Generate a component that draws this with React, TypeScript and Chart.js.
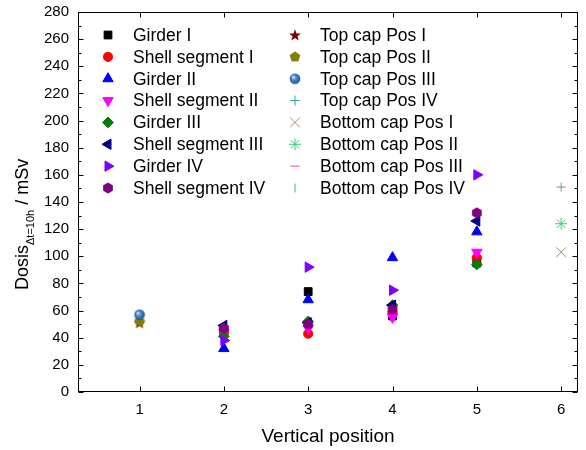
import React, { useEffect, useRef } from 'react';
import { Chart, registerables } from 'chart.js';
import { drawPoint } from 'chart.js/helpers';

Chart.register(...registerables);

// ---------- data ----------
const positions = [1, 2, 3, 4, 5, 6];
const yTicks = [0, 20, 40, 60, 80, 100, 120, 140, 160, 180, 200, 220, 240, 260, 280];
const xTicks = [1, 2, 3, 4, 5, 6];

const seriesNames = [
  'Girder I', 'Shell segment I', 'Girder II', 'Shell segment II',
  'Girder III', 'Shell segment III', 'Girder IV', 'Shell segment IV',
  'Top cap Pos I', 'Top cap Pos II', 'Top cap Pos III', 'Top cap Pos IV',
  'Bottom cap Pos I', 'Bottom cap Pos II', 'Bottom cap Pos III', 'Bottom cap Pos IV',
];

// values at vertical positions 1..6 (null = no measurement)
const girderI = [null, 45, 74, 56, 95, null];
const shellSegmentI = [null, 44, 43, 58, 99, null];
const girderII = [null, 32, 68, 99, 118, null];
const shellSegmentII = [null, 44, 47, 55, 103, null];
const girderIII = [null, 41, 52, 64, 94, null];
const shellSegmentIII = [null, 49, 51, 64, 126, null];
const girderIV = [null, 38, 92, 75, 160, null];
const shellSegmentIV = [null, 47, 50, 61, 132, null];
const topCapPosI = [51, null, null, null, null, null];
const topCapPosII = [52, null, null, null, null, null];
const topCapPosIII = [57, null, null, null, null, null];
const topCapPosIV = [null, null, null, null, null, null];
const bottomCapPosI = [null, null, null, null, null, 103];
const bottomCapPosII = [null, null, null, null, null, 124];
const bottomCapPosIII = [null, null, null, null, null, 151];
const bottomCapPosIV = [null, null, null, null, null, 151];

const seriesValues = [
  girderI, shellSegmentI, girderII, shellSegmentII,
  girderIII, shellSegmentIII, girderIV, shellSegmentIV,
  topCapPosI, topCapPosII, topCapPosIII, topCapPosIV,
  bottomCapPosI, bottomCapPosII, bottomCapPosIII, bottomCapPosIV,
];

const FONT = "'Liberation Sans', Arial, sans-serif";

function makeMarker(size: number, draw: (ctx: CanvasRenderingContext2D, c: number) => void) {
  const cv = document.createElement('canvas');
  cv.width = size;
  cv.height = size;
  const ctx = cv.getContext('2d')!;
  draw(ctx, size / 2);
  return cv;
}

function polygon(ctx: CanvasRenderingContext2D, c: number, n: number, r: number, start: number) {
  ctx.beginPath();
  for (let i = 0; i < n; i++) {
    const a = start + (i * 2 * Math.PI) / n;
    const x = c + r * Math.cos(a);
    const y = c + r * Math.sin(a);
    if (i === 0) ctx.moveTo(x, y); else ctx.lineTo(x, y);
  }
  ctx.closePath();
}

function buildStyles() {
  const hexagon = makeMarker(12, (ctx, c) => {
    polygon(ctx, c, 6, 5.6, -Math.PI / 2);
    ctx.fillStyle = '#800080';
    ctx.fill();
  });
  const star = makeMarker(14, (ctx, c) => {
    ctx.beginPath();
    for (let i = 0; i < 10; i++) {
      const r = i % 2 === 0 ? 6.2 : 2.6;
      const a = -Math.PI / 2 + (i * Math.PI) / 5;
      const x = c + r * Math.cos(a);
      const y = c + 0.5 + r * Math.sin(a);
      if (i === 0) ctx.moveTo(x, y); else ctx.lineTo(x, y);
    }
    ctx.closePath();
    ctx.fillStyle = '#800000';
    ctx.fill();
  });
  const pentagon = makeMarker(12, (ctx, c) => {
    polygon(ctx, c, 5, 5.6, -Math.PI / 2);
    ctx.fillStyle = '#808000';
    ctx.fill();
  });
  const sphere = makeMarker(12, (ctx, c) => {
    const g = ctx.createRadialGradient(c - 1.8, c - 1.8, 0.5, c, c, 5.5);
    g.addColorStop(0, '#cfe4fb');
    g.addColorStop(0.35, '#4f8fd0');
    g.addColorStop(1, '#1d4f8a');
    ctx.beginPath();
    ctx.arc(c, c, 5.3, 0, Math.PI * 2);
    ctx.fillStyle = g;
    ctx.fill();
  });

  return [
    { pointStyle: 'rect', rotation: 0, radius: 5.5, color: '#000000', bw: 1 },
    { pointStyle: 'circle', rotation: 0, radius: 4.6, color: '#ff0000', bw: 1 },
    { pointStyle: 'triangle', rotation: 0, radius: 6, color: '#0000ff', bw: 1 },
    { pointStyle: 'triangle', rotation: 180, radius: 6, color: '#ff00ff', bw: 1 },
    { pointStyle: 'rectRot', rotation: 0, radius: 5.4, color: '#008000', bw: 1 },
    { pointStyle: 'triangle', rotation: -90, radius: 6, color: '#000080', bw: 1 },
    { pointStyle: 'triangle', rotation: 90, radius: 6, color: '#8000ff', bw: 1 },
    { pointStyle: hexagon, rotation: 0, radius: 5, color: '#800080', bw: 0 },
    { pointStyle: star, rotation: 0, radius: 5, color: '#800000', bw: 0 },
    { pointStyle: pentagon, rotation: 0, radius: 5, color: '#808000', bw: 0 },
    { pointStyle: sphere, rotation: 0, radius: 5, color: '#2f6fb0', bw: 0 },
    { pointStyle: 'cross', rotation: 0, radius: 5, color: '#2aa5a5', bw: 1 },
    { pointStyle: 'crossRot', rotation: 0, radius: 7, color: '#b08a60', bw: 1 },
    { pointStyle: 'star', rotation: 0, radius: 6, color: '#3ccf7a', bw: 1 },
    { pointStyle: 'line', rotation: 0, radius: 4.5, color: '#e0508a', bw: 1 },
    { pointStyle: 'line', rotation: 90, radius: 4.5, color: '#40b0b0', bw: 1 },
  ];
}

const framePlugin = {
  id: 'frameTicks',
  beforeDatasetsDraw(chart: any) {
    const { ctx, chartArea: a, scales } = chart;
    const xs = scales.x;
    const ys = scales.y;
    ctx.save();
    ctx.strokeStyle = '#000';
    ctx.lineWidth = 1;
    const L = Math.round(a.left) + 0.5;
    const R = Math.round(a.right) - 0.5;
    const T = Math.round(a.top) + 0.5;
    const B = Math.round(a.bottom) - 0.5;
    ctx.strokeRect(L, T, R - L, B - T);
    ctx.beginPath();
    for (let v = 0; v <= 280; v += 10) {
      const y = Math.round(ys.getPixelForValue(v)) + 0.5;
      const len = v % 20 === 0 ? 5 : 3;
      ctx.moveTo(L, y); ctx.lineTo(L + len, y);
      ctx.moveTo(R, y); ctx.lineTo(R - len, y);
    }
    for (const v of xTicks) {
      const x = Math.round(xs.getPixelForValue(v)) + 0.5;
      ctx.moveTo(x, B); ctx.lineTo(x, B - 5);
      ctx.moveTo(x, T); ctx.lineTo(x, T + 5);
    }
    ctx.stroke();
    ctx.restore();
  },
  afterDraw(chart: any) {
    const { ctx } = chart;
    // y-axis title with subscript
    ctx.save();
    ctx.translate(28, 290);
    ctx.rotate(-Math.PI / 2);
    ctx.fillStyle = '#000';
    ctx.textBaseline = 'alphabetic';
    ctx.textAlign = 'left';
    ctx.font = `18px ${FONT}`;
    let x = 0;
    ctx.fillText('Dosis', x, 0);
    x += ctx.measureText('Dosis').width;
    ctx.font = `11px ${FONT}`;
    ctx.fillText('\u0394t=10h', x, 6);
    x += ctx.measureText('\u0394t=10h').width;
    ctx.font = `18px ${FONT}`;
    ctx.fillText(' / mSv', x, 0);
    ctx.restore();

    // legend in two columns
    ctx.save();
    ctx.font = `17.5px ${FONT}`;
    ctx.textBaseline = 'middle';
    ctx.textAlign = 'left';
    chart.data.datasets.forEach((ds: any, i: number) => {
      const col = Math.floor(i / 8);
      const row = i % 8;
      const mx = col === 0 ? 108 : 295;
      const tx = col === 0 ? 133 : 320;
      const y = 35 + row * 21.86;
      ctx.save();
      ctx.fillStyle = ds.pointBackgroundColor;
      ctx.strokeStyle = ds.pointBorderColor;
      ctx.lineWidth = ds.pointBorderWidth;
      drawPoint(ctx, {
        pointStyle: ds.pointStyle,
        rotation: ds.pointRotation,
        radius: ds.pointRadius,
        borderWidth: ds.pointBorderWidth,
      } as any, mx, y);
      ctx.restore();
      ctx.fillStyle = '#000';
      ctx.fillText(ds.label, tx, y + 1);
    });
    ctx.restore();
  },
};

export default function App() {
  const ref = useRef<HTMLCanvasElement | null>(null);

  useEffect(() => {
    if (!ref.current) return;
    const styles = buildStyles();
    const datasets = seriesNames.map((name, i) => {
      const vals = seriesValues[i];
      const data: { x: number; y: number }[] = [];
      vals.forEach((v, j) => {
        if (v !== null) data.push({ x: positions[j], y: v as number });
      });
      const s = styles[i];
      return {
        label: name,
        data,
        showLine: false,
        order: seriesNames.length - i,
        pointStyle: s.pointStyle,
        pointRotation: s.rotation,
        pointRadius: s.radius,
        pointBackgroundColor: s.color,
        pointBorderColor: s.color,
        pointBorderWidth: s.bw,
        pointHoverRadius: s.radius,
      };
    });

    const chart = new Chart(ref.current, {
      type: 'scatter',
      data: { datasets: datasets as any },
      plugins: [framePlugin as any],
      options: {
        animation: false,
        responsive: false,
        maintainAspectRatio: false,
        layout: { padding: { top: 12, right: 4, left: 0, bottom: 0 } },
        plugins: { legend: { display: false }, tooltip: { enabled: false } },
        scales: {
          x: {
            type: 'linear',
            min: 0.27,
            max: 6.2,
            grid: { display: false, drawTicks: false },
            border: { display: false },
            afterBuildTicks: (scale: any) => {
              scale.ticks = xTicks.map((v) => ({ value: v }));
            },
            afterFit: (scale: any) => {
              scale.height = 58;
              scale.paddingLeft = 0;
              scale.paddingRight = 0;
            },
            ticks: {
              color: '#000',
              font: { family: FONT, size: 15 },
              padding: 9,
              callback: (v: any) => String(v),
            },
            title: {
              display: true,
              text: 'Vertical position',
              color: '#000',
              font: { family: FONT, size: 19 },
              padding: { top: 0, bottom: 2 },
            },
          },
          y: {
            type: 'linear',
            min: 0,
            max: 280,
            grid: { display: false, drawTicks: false },
            border: { display: false },
            afterBuildTicks: (scale: any) => {
              scale.ticks = yTicks.map((v) => ({ value: v }));
            },
            afterFit: (scale: any) => {
              scale.width = 78;
              scale.paddingTop = 0;
              scale.paddingBottom = 0;
            },
            ticks: {
              color: '#000',
              font: { family: FONT, size: 15 },
              padding: 9,
            },
          },
        },
      },
    });
    return () => chart.destroy();
  }, []);

  return (
    <div style={{ position: 'fixed', left: 0, top: 0, width: 586, height: 450, background: '#fff' }}>
      <canvas ref={ref} width={586} height={450} style={{ width: 586, height: 450, display: 'block' }} />
    </div>
  );
}
